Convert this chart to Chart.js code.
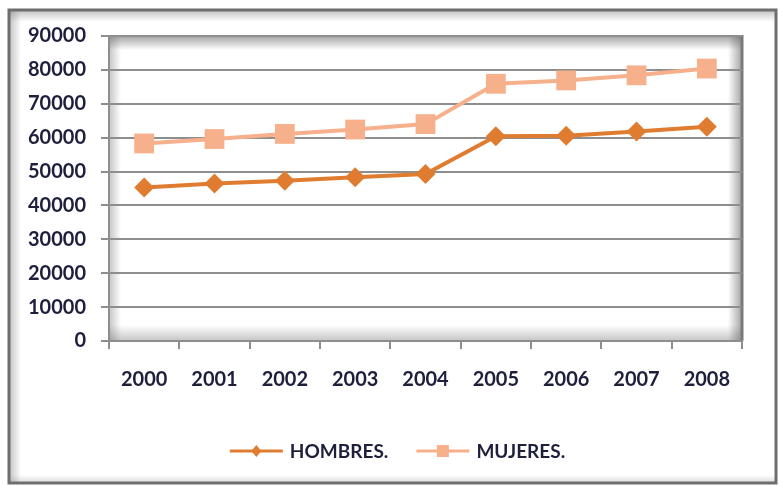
<!DOCTYPE html>
<html>
<head>
<meta charset="utf-8">
<script src="https://cdn.jsdelivr.net/npm/chart.js@4.4.1/dist/chart.umd.min.js"></script>
<style>
  html, body { margin: 0; padding: 0; background: #ffffff; }
  #wrap { width: 779px; height: 487px; position: relative; }
</style>
</head>
<body>
<div id="wrap"><canvas id="c" width="779" height="487"></canvas></div>
<script>
// Años
const years = ['2000', '2001', '2002', '2003', '2004', '2005', '2006', '2007', '2008'];
// Población por sexo
const hombres = [45300, 46500, 47300, 48300, 49300, 60400, 60600, 61800, 63200];
const mujeres = [58300, 59600, 61100, 62400, 64000, 75900, 76900, 78400, 80400];
// Marcas del eje vertical
const yTicks = [0, 10000, 20000, 30000, 40000, 50000, 60000, 70000, 80000, 90000];

const FONT = { family: 'Lato, "Open Sans", sans-serif', size: 20, weight: 'bold' };
const TEXT = '#1d1f3d';
const GRID = '#8e8e8e';
const C_H = '#e07c30';
const C_M = '#f6b08b';

// Marco exterior y sombreado interior del área de trazado
const framePlugin = {
  id: 'frame',
  beforeDraw(chart) {
    const ctx = chart.ctx;
    const W = chart.width, H = chart.height;
    ctx.save();
    ctx.fillStyle = '#ffffff';
    ctx.fillRect(0, 0, W, H);

    // marco exterior
    const fx = 9, fy = 10, fw = 767, fh = 473;
    let g = ctx.createLinearGradient(fx, 0, fx + 12, 0);
    g.addColorStop(0, 'rgba(120,120,120,0.45)');
    g.addColorStop(1, 'rgba(120,120,120,0)');
    ctx.fillStyle = g; ctx.fillRect(fx, fy, 12, fh);
    g = ctx.createLinearGradient(0, fy, 0, fy + 12);
    g.addColorStop(0, 'rgba(120,120,120,0.45)');
    g.addColorStop(1, 'rgba(120,120,120,0)');
    ctx.fillStyle = g; ctx.fillRect(fx, fy, fw, 12);
    g = ctx.createLinearGradient(0, fy + fh - 8, 0, fy + fh);
    g.addColorStop(0, 'rgba(150,150,150,0)');
    g.addColorStop(1, 'rgba(150,150,150,0.35)');
    ctx.fillStyle = g; ctx.fillRect(fx, fy + fh - 8, fw, 8);
    ctx.strokeStyle = '#6e6e6e';
    ctx.lineWidth = 3;
    ctx.strokeRect(fx, fy, fw, fh);

    // área de trazado con sombra interior
    const a = chart.chartArea;
    const l = a.left, t = a.top, r = a.right, b = a.bottom;
    const edge = (x0, y0, x1, y1, rx, ry, rw, rh, alpha) => {
      const gg = ctx.createLinearGradient(x0, y0, x1, y1);
      gg.addColorStop(0, 'rgba(90,90,90,' + alpha + ')');
      gg.addColorStop(1, 'rgba(90,90,90,0)');
      ctx.fillStyle = gg;
      ctx.fillRect(rx, ry, rw, rh);
    };
    edge(0, t, 0, t + 14, l, t, r - l, 14, 0.55);
    edge(l, 0, l + 12, 0, l, t, 12, b - t, 0.35);
    edge(0, b, 0, b - 16, l, b - 16, r - l, 16, 0.35);
    edge(r, 0, r - 14, 0, r - 14, t, 14, b - t, 0.55);
    ctx.strokeStyle = '#7a7a7a';
    ctx.lineWidth = 3;
    ctx.beginPath();
    ctx.moveTo(r, t - 1); ctx.lineTo(r, b);
    ctx.stroke();
    ctx.restore();
  }
};

// Leyenda inferior: línea con marcador y texto
const legendPlugin = {
  id: 'bottomLegend',
  afterDraw(chart) {
    const ctx = chart.ctx;
    ctx.save();
    ctx.font = FONT.weight + ' ' + (FONT.size - 1) + 'px ' + FONT.family;
    ctx.textBaseline = 'middle';
    const items = chart.data.datasets;
    const lineLen = 53, gap = 7, itemGap = 28;
    const widths = items.map(d => lineLen + gap + ctx.measureText(d.label).width);
    const total = widths.reduce((s, w) => s + w, 0) + itemGap * (items.length - 1);
    let x = chart.width / 2 + 8 - total / 2;
    const y = 451;
    items.forEach((d, i) => {
      ctx.strokeStyle = d.borderColor;
      ctx.lineWidth = 3;
      ctx.beginPath();
      ctx.moveTo(x, y); ctx.lineTo(x + lineLen, y);
      ctx.stroke();
      ctx.fillStyle = d.pointBackgroundColor;
      const cx = x + lineLen / 2;
      ctx.beginPath();
      if (d.pointStyle === 'rectRot') {
        ctx.moveTo(cx, y - 6); ctx.lineTo(cx + 5, y); ctx.lineTo(cx, y + 6); ctx.lineTo(cx - 5, y);
        ctx.closePath();
      } else {
        ctx.rect(cx - 6, y - 6, 12, 12);
      }
      ctx.fill();
      ctx.fillStyle = TEXT;
      ctx.textAlign = 'left';
      ctx.fillText(d.label, x + lineLen + gap, y + 1);
      x += widths[i] + itemGap;
    });
    ctx.restore();
  }
};

new Chart(document.getElementById('c'), {
  type: 'line',
  data: {
    labels: years,
    datasets: [
      {
        label: 'HOMBRES.',
        data: hombres,
        borderColor: C_H,
        backgroundColor: C_H,
        pointBackgroundColor: C_H,
        pointBorderColor: C_H,
        pointBorderWidth: 0,
        pointStyle: 'rectRot',
        pointRadius: 10,
        borderWidth: 4,
        tension: 0
      },
      {
        label: 'MUJERES.',
        data: mujeres,
        borderColor: C_M,
        backgroundColor: C_M,
        pointBackgroundColor: C_M,
        pointBorderColor: C_M,
        pointBorderWidth: 0,
        pointStyle: 'rect',
        pointRadius: 14,
        borderWidth: 4,
        tension: 0
      }
    ]
  },
  options: {
    responsive: false,
    animation: false,
    devicePixelRatio: 1,
    events: [],
    layout: { padding: { left: 13, right: 37, top: 36, bottom: 76 } },
    plugins: {
      legend: { display: false },
      tooltip: { enabled: false },
      title: { display: false }
    },
    scales: {
      x: {
        offset: true,
        grid: {
          offset: true,
          drawOnChartArea: false,
          drawTicks: true,
          tickLength: 8,
          color: GRID,
          lineWidth: 2
        },
        border: { display: true, color: GRID, width: 2 },
        ticks: {
          color: TEXT,
          font: FONT,
          padding: 19,
          maxRotation: 0,
          autoSkip: false
        }
      },
      y: {
        min: yTicks[0],
        max: yTicks[yTicks.length - 1],
        afterBuildTicks(scale) {
          scale.ticks = yTicks.map(v => ({ value: v }));
        },
        grid: {
          drawOnChartArea: true,
          drawTicks: true,
          tickLength: 8,
          color: GRID,
          lineWidth: 2
        },
        border: { display: true, color: GRID, width: 2 },
        ticks: {
          color: TEXT,
          font: FONT,
          padding: 15,
          callback: v => String(v)
        }
      }
    }
  },
  plugins: [framePlugin, legendPlugin]
});
</script>
</body>
</html>
